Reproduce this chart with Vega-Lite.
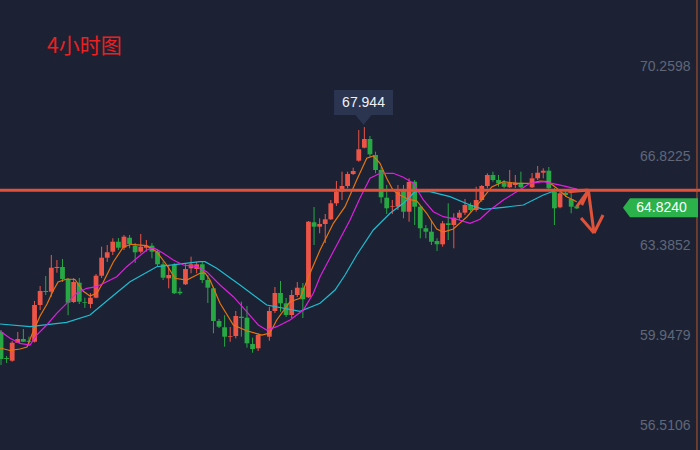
{
  "$schema": "https://vega.github.io/schema/vega-lite/v6.json",
  "width": 700,
  "height": 450,
  "padding": 0,
  "autosize": {"type": "none"},
  "background": "#1c2234",
  "view": {"stroke": null},
  "datasets": {
    "candles": [
      {"i":0,"o":60.082,"h":60.159,"l":58.817,"c":59.046},
      {"i":1,"o":59.085,"h":59.162,"l":58.893,"c":59.046},
      {"i":2,"o":58.981,"h":59.736,"l":58.943,"c":59.671},
      {"i":3,"o":59.671,"h":60.082,"l":59.660,"c":59.813},
      {"i":4,"o":59.813,"h":60.197,"l":59.698,"c":59.709},
      {"i":5,"o":59.748,"h":59.902,"l":59.556,"c":59.709},
      {"i":6,"o":59.709,"h":61.272,"l":59.680,"c":61.118},
      {"i":7,"o":61.118,"h":61.847,"l":60.926,"c":61.655},
      {"i":8,"o":61.655,"h":62.230,"l":61.502,"c":61.617},
      {"i":9,"o":61.628,"h":63.036,"l":61.437,"c":62.549},
      {"i":10,"o":62.537,"h":62.844,"l":62.357,"c":62.576},
      {"i":11,"o":62.576,"h":62.883,"l":62.001,"c":62.116},
      {"i":12,"o":62.116,"h":62.154,"l":60.726,"c":61.206},
      {"i":13,"o":61.233,"h":62.154,"l":61.194,"c":62.001},
      {"i":14,"o":61.974,"h":62.154,"l":61.156,"c":61.245},
      {"i":15,"o":61.222,"h":61.398,"l":61.007,"c":61.194},
      {"i":16,"o":61.156,"h":61.578,"l":60.995,"c":61.398},
      {"i":17,"o":61.398,"h":62.307,"l":61.375,"c":62.242},
      {"i":18,"o":62.242,"h":63.355,"l":62.154,"c":62.933},
      {"i":19,"o":62.933,"h":63.420,"l":62.768,"c":63.140},
      {"i":20,"o":63.163,"h":63.677,"l":63.036,"c":63.546},
      {"i":21,"o":63.546,"h":63.688,"l":63.228,"c":63.316},
      {"i":22,"o":63.316,"h":63.803,"l":63.228,"c":63.738},
      {"i":23,"o":63.700,"h":63.803,"l":63.293,"c":63.447},
      {"i":24,"o":63.393,"h":63.497,"l":62.730,"c":63.140},
      {"i":25,"o":63.163,"h":63.842,"l":63.101,"c":63.355},
      {"i":26,"o":63.316,"h":63.612,"l":63.163,"c":63.393},
      {"i":27,"o":63.393,"h":63.497,"l":62.910,"c":63.163},
      {"i":28,"o":63.163,"h":63.267,"l":62.588,"c":62.680},
      {"i":29,"o":62.680,"h":62.779,"l":62.077,"c":62.165},
      {"i":30,"o":62.142,"h":62.653,"l":61.759,"c":62.269},
      {"i":31,"o":62.653,"h":62.718,"l":61.540,"c":61.567},
      {"i":32,"o":61.628,"h":61.782,"l":61.502,"c":61.567},
      {"i":33,"o":61.912,"h":62.680,"l":61.885,"c":62.499},
      {"i":34,"o":62.526,"h":62.971,"l":62.334,"c":62.680},
      {"i":35,"o":62.499,"h":62.779,"l":62.334,"c":62.680},
      {"i":36,"o":62.680,"h":62.779,"l":61.962,"c":62.077},
      {"i":37,"o":62.077,"h":62.269,"l":61.195,"c":61.782},
      {"i":38,"o":61.759,"h":61.820,"l":60.033,"c":60.504},
      {"i":39,"o":60.504,"h":60.581,"l":60.236,"c":60.286},
      {"i":40,"o":60.263,"h":60.727,"l":59.519,"c":59.902},
      {"i":41,"o":59.902,"h":60.274,"l":59.709,"c":59.929},
      {"i":42,"o":59.929,"h":60.888,"l":59.841,"c":60.696},
      {"i":43,"o":60.670,"h":61.245,"l":59.902,"c":60.620},
      {"i":44,"o":60.631,"h":61.080,"l":59.480,"c":59.649},
      {"i":45,"o":59.622,"h":59.864,"l":59.288,"c":59.430},
      {"i":46,"o":59.457,"h":60.033,"l":59.354,"c":59.967},
      {"i":48,"o":59.902,"h":61.053,"l":59.748,"c":60.888},
      {"i":49,"o":60.888,"h":61.809,"l":60.811,"c":61.578},
      {"i":50,"o":61.578,"h":62.039,"l":60.861,"c":61.183},
      {"i":51,"o":61.183,"h":61.387,"l":60.658,"c":60.734},
      {"i":52,"o":60.734,"h":61.694,"l":60.620,"c":61.502},
      {"i":53,"o":61.502,"h":62.001,"l":61.425,"c":61.782},
      {"i":54,"o":61.782,"h":61.962,"l":60.620,"c":61.337},
      {"i":55,"o":61.414,"h":64.341,"l":61.387,"c":64.314},
      {"i":56,"o":64.291,"h":64.877,"l":63.420,"c":64.122},
      {"i":57,"o":64.122,"h":64.444,"l":63.869,"c":64.225},
      {"i":58,"o":64.225,"h":64.609,"l":63.497,"c":64.406},
      {"i":59,"o":64.406,"h":65.146,"l":64.379,"c":65.019},
      {"i":60,"o":65.019,"h":65.875,"l":64.916,"c":65.464},
      {"i":61,"o":65.464,"h":66.232,"l":65.146,"c":65.683},
      {"i":62,"o":65.683,"h":66.232,"l":65.595,"c":66.143},
      {"i":63,"o":66.143,"h":66.385,"l":66.105,"c":66.258},
      {"i":64,"o":66.654,"h":67.831,"l":66.615,"c":67.091},
      {"i":65,"o":67.152,"h":67.944,"l":67.129,"c":67.486},
      {"i":66,"o":67.486,"h":67.601,"l":66.807,"c":66.899},
      {"i":67,"o":66.872,"h":66.999,"l":66.170,"c":66.297},
      {"i":68,"o":66.297,"h":66.412,"l":65.019,"c":65.250},
      {"i":69,"o":65.234,"h":65.721,"l":64.609,"c":64.828},
      {"i":70,"o":64.878,"h":65.146,"l":64.609,"c":64.904},
      {"i":71,"o":64.889,"h":65.721,"l":64.762,"c":65.464},
      {"i":72,"o":65.530,"h":65.721,"l":64.444,"c":64.697},
      {"i":73,"o":64.697,"h":65.978,"l":64.314,"c":65.837},
      {"i":74,"o":65.848,"h":65.913,"l":64.187,"c":64.889},
      {"i":75,"o":64.889,"h":64.954,"l":63.677,"c":64.061},
      {"i":76,"o":64.061,"h":64.187,"l":63.677,"c":63.930},
      {"i":77,"o":63.930,"h":64.379,"l":63.420,"c":63.546},
      {"i":78,"o":63.573,"h":63.677,"l":63.190,"c":63.447},
      {"i":79,"o":63.447,"h":64.341,"l":63.355,"c":64.252},
      {"i":80,"o":64.252,"h":65.019,"l":63.612,"c":64.187},
      {"i":81,"o":64.187,"h":64.636,"l":63.293,"c":64.467},
      {"i":82,"o":64.467,"h":64.762,"l":64.379,"c":64.659},
      {"i":83,"o":64.659,"h":65.184,"l":64.571,"c":64.954},
      {"i":84,"o":64.954,"h":65.043,"l":64.697,"c":64.762},
      {"i":85,"o":64.762,"h":65.656,"l":64.697,"c":65.146},
      {"i":86,"o":65.146,"h":65.721,"l":65.081,"c":65.683},
      {"i":87,"o":65.683,"h":66.170,"l":65.595,"c":66.105},
      {"i":88,"o":66.105,"h":66.232,"l":65.848,"c":65.913},
      {"i":89,"o":65.913,"h":66.105,"l":65.656,"c":65.787},
      {"i":90,"o":65.810,"h":65.913,"l":65.595,"c":65.656},
      {"i":91,"o":65.633,"h":66.297,"l":65.606,"c":65.810},
      {"i":92,"o":65.721,"h":66.105,"l":65.606,"c":65.810},
      {"i":93,"o":65.810,"h":66.232,"l":65.606,"c":65.633},
      {"i":95,"o":65.633,"h":66.182,"l":65.606,"c":65.978},
      {"i":96,"o":65.978,"h":66.450,"l":65.913,"c":66.193},
      {"i":97,"o":66.193,"h":66.362,"l":65.978,"c":66.270},
      {"i":98,"o":66.270,"h":66.412,"l":65.530,"c":65.595},
      {"i":99,"o":65.464,"h":65.606,"l":64.187,"c":64.828},
      {"i":100,"o":64.866,"h":65.464,"l":64.828,"c":65.403},
      {"i":101,"o":65.426,"h":65.530,"l":65.261,"c":65.338},
      {"i":102,"o":65.184,"h":65.464,"l":64.636,"c":64.889},
      {"i":103,"o":64.904,"h":64.954,"l":64.801,"c":64.824}
    ],
    "ma": [
      {"s":"ma20","i":-0.18,"v":60.389},{"s":"ma20","i":5.19,"v":60.286},{"s":"ma20","i":11.75,"v":60.455},{"s":"ma20","i":15.92,"v":60.734},{"s":"ma20","i":19.5,"v":61.375},{"s":"ma20","i":23.08,"v":62.012},{"s":"ma20","i":27.85,"v":62.587},{"s":"ma20","i":31.43,"v":62.68},{"s":"ma20","i":35.6,"v":62.779},{"s":"ma20","i":36.49,"v":62.779},{"s":"ma20","i":38.59,"v":62.526},{"s":"ma20","i":42.75,"v":61.885},{"s":"ma20","i":47.53,"v":61.118},{"s":"ma20","i":53.49,"v":60.876},{"s":"ma20","i":57.07,"v":61.183},{"s":"ma20","i":59.75,"v":61.694},{"s":"ma20","i":61.54,"v":62.269},{"s":"ma20","i":63.63,"v":63.036},{"s":"ma20","i":66.6,"v":63.995},{"s":"ma20","i":69.59,"v":64.636},{"s":"ma20","i":71.97,"v":65.019},{"s":"ma20","i":74.06,"v":65.464},{"s":"ma20","i":76.74,"v":65.464},{"s":"ma20","i":80.32,"v":65.273},{"s":"ma20","i":83.9,"v":64.954},{"s":"ma20","i":86.28,"v":64.789},{"s":"ma20","i":89.86,"v":64.866},{"s":"ma20","i":93.44,"v":64.954},{"s":"ma20","i":97.01,"v":65.338},{"s":"ma20","i":99.41,"v":65.53},{"s":"ma20","i":102.99,"v":65.568},
      {"s":"ma5","i":-0.18,"v":59.469},{"s":"ma5","i":1.61,"v":59.373},{"s":"ma5","i":3.4,"v":59.431},{"s":"ma5","i":4.65,"v":59.507},{"s":"ma5","i":5.72,"v":60.082},{"s":"ma5","i":6.98,"v":60.696},{"s":"ma5","i":8.23,"v":61.157},{"s":"ma5","i":9.3,"v":61.655},{"s":"ma5","i":10.2,"v":62.001},{"s":"ma5","i":11.75,"v":62.116},{"s":"ma5","i":13.24,"v":62.097},{"s":"ma5","i":14.67,"v":61.655},{"s":"ma5","i":15.92,"v":61.464},{"s":"ma5","i":17.17,"v":61.578},{"s":"ma5","i":18.3,"v":62.001},{"s":"ma5","i":20.09,"v":62.768},{"s":"ma5","i":21.88,"v":63.343},{"s":"ma5","i":23.38,"v":63.447},{"s":"ma5","i":26.06,"v":63.393},{"s":"ma5","i":27.85,"v":63.163},{"s":"ma5","i":29.64,"v":62.653},{"s":"ma5","i":31.13,"v":62.142},{"s":"ma5","i":33.22,"v":62.077},{"s":"ma5","i":35.6,"v":62.334},{"s":"ma5","i":36.49,"v":62.346},{"s":"ma5","i":37.39,"v":62.077},{"s":"ma5","i":39.18,"v":61.183},{"s":"ma5","i":41.56,"v":60.351},{"s":"ma5","i":43.95,"v":60.132},{"s":"ma5","i":46.64,"v":59.967},{"s":"ma5","i":48.12,"v":60.044},{"s":"ma5","i":49.32,"v":60.543},{"s":"ma5","i":51.7,"v":61.245},{"s":"ma5","i":53.49,"v":61.375},{"s":"ma5","i":55.28,"v":62.334},{"s":"ma5","i":57.07,"v":63.228},{"s":"ma5","i":59.45,"v":64.252},{"s":"ma5","i":61.54,"v":64.889},{"s":"ma5","i":63.63,"v":65.913},{"s":"ma5","i":65.42,"v":66.746},{"s":"ma5","i":66.6,"v":66.834},{"s":"ma5","i":67.8,"v":66.554},{"s":"ma5","i":68.99,"v":65.978},{"s":"ma5","i":70.18,"v":65.503},{"s":"ma5","i":71.38,"v":65.338},{"s":"ma5","i":72.86,"v":65.173},{"s":"ma5","i":74.37,"v":65.108},{"s":"ma5","i":76.15,"v":64.636},{"s":"ma5","i":77.94,"v":64.034},{"s":"ma5","i":79.12,"v":63.919},{"s":"ma5","i":80.91,"v":64.034},{"s":"ma5","i":83.31,"v":64.494},{"s":"ma5","i":85.69,"v":65.081},{"s":"ma5","i":87.78,"v":65.645},{"s":"ma5","i":89.86,"v":65.848},{"s":"ma5","i":92.25,"v":65.787},{"s":"ma5","i":94.63,"v":65.787},{"s":"ma5","i":96.42,"v":65.875},{"s":"ma5","i":97.91,"v":65.848},{"s":"ma5","i":99.41,"v":65.595},{"s":"ma5","i":101.2,"v":65.273},{"s":"ma5","i":102.99,"v":65.081},
      {"s":"ma10","i":-0.18,"v":60.121},{"s":"ma10","i":1.61,"v":59.841},{"s":"ma10","i":3.4,"v":59.649},{"s":"ma10","i":5.19,"v":59.584},{"s":"ma10","i":6.39,"v":59.967},{"s":"ma10","i":8.18,"v":60.351},{"s":"ma10","i":9.96,"v":60.8},{"s":"ma10","i":11.75,"v":61.183},{"s":"ma10","i":13.54,"v":61.567},{"s":"ma10","i":15.33,"v":61.759},{"s":"ma10","i":17.12,"v":61.82},{"s":"ma10","i":18.91,"v":62.012},{"s":"ma10","i":20.7,"v":62.204},{"s":"ma10","i":22.49,"v":62.588},{"s":"ma10","i":24.28,"v":62.91},{"s":"ma10","i":26.06,"v":63.228},{"s":"ma10","i":27.25,"v":63.316},{"s":"ma10","i":29.03,"v":63.101},{"s":"ma10","i":30.82,"v":62.844},{"s":"ma10","i":32.61,"v":62.653},{"s":"ma10","i":35.01,"v":62.588},{"s":"ma10","i":36.8,"v":62.396},{"s":"ma10","i":39.18,"v":61.885},{"s":"ma10","i":41.56,"v":61.437},{"s":"ma10","i":43.95,"v":60.861},{"s":"ma10","i":46.03,"v":60.351},{"s":"ma10","i":47.53,"v":60.159},{"s":"ma10","i":49.32,"v":60.286},{"s":"ma10","i":51.7,"v":60.543},{"s":"ma10","i":54.08,"v":60.926},{"s":"ma10","i":55.87,"v":61.567},{"s":"ma10","i":57.07,"v":62.204},{"s":"ma10","i":59.03,"v":62.998},{"s":"ma10","i":62.43,"v":64.379},{"s":"ma10","i":64.22,"v":65.223},{"s":"ma10","i":66.01,"v":65.978},{"s":"ma10","i":67.8,"v":66.17},{"s":"ma10","i":70.18,"v":66.17},{"s":"ma10","i":71.97,"v":66.017},{"s":"ma10","i":73.76,"v":65.787},{"s":"ma10","i":75.55,"v":65.146},{"s":"ma10","i":77.34,"v":64.697},{"s":"ma10","i":79.12,"v":64.505},{"s":"ma10","i":81.52,"v":64.406},{"s":"ma10","i":83.9,"v":64.252},{"s":"ma10","i":85.69,"v":64.406},{"s":"ma10","i":87.48,"v":64.762},{"s":"ma10","i":89.86,"v":65.146},{"s":"ma10","i":92.25,"v":65.464},{"s":"ma10","i":94.63,"v":65.787},{"s":"ma10","i":97.01,"v":65.848},{"s":"ma10","i":99.41,"v":65.748},{"s":"ma10","i":101.2,"v":65.656},{"s":"ma10","i":102.99,"v":65.568}
    ],
    "arrow": [
      {"k":"a","i":101.49,"v":65.464},{"k":"a","i":105.06,"v":65.53},
      {"k":"b","i":102.99,"v":64.889},{"k":"b","i":105.06,"v":65.503},
      {"k":"c","i":103.88,"v":64.954},{"k":"c","i":105.06,"v":65.5},
      {"k":"d","i":105.06,"v":65.53},{"k":"d","i":106.08,"v":63.88},
      {"k":"e","i":103.76,"v":64.456},{"k":"e","i":106.08,"v":63.88},
      {"k":"f","i":107.69,"v":64.571},{"k":"f","i":106.08,"v":63.88}
    ],
    "level": [{"v": 65.52}],
    "edge": [{"i": 124.5}],
    "price": [{"t": "64.8240", "i": 117.97, "v": 64.848}],
    "peak": [{"t": "67.944", "i": 64.85, "v": 68.694, "tv": 68.886}],
    "title": [{"t": "4小时图", "i": 8.23, "v": 71.015}]
  },
  "layer": [
    {
      "data": {"name": "candles"},
      "mark": {"type": "rule", "strokeWidth": 1},
      "encoding": {
        "x": {"field": "i", "type": "quantitative", "scale": {"domain": [-0.18, 125.04], "nice": false, "zero": false, "padding": 0}, "axis": null},
        "y": {"field": "h", "type": "quantitative", "scale": {"domain": [55.556, 72.818], "nice": false, "zero": false, "padding": 0},
              "axis": {"orient": "right", "values": [70.2598, 66.8225, 63.3852, 59.9479, 56.5106], "format": ".4f", "domain": false, "ticks": false, "grid": false, "labelAlign": "right", "labelPadding": 0, "offset": -10, "labelColor": "#5f6779", "labelFontSize": 14, "labelFont": "Liberation Sans", "labelOverlap": false, "labelFlush": false, "title": null}},
        "y2": {"field": "l"},
        "color": {"condition": {"test": "datum.c >= datum.o", "value": "#ec5448"}, "value": "#27a844"}
      }
    },
    {
      "data": {"name": "candles"},
      "mark": {"type": "bar", "size": 4.8},
      "encoding": {
        "x": {"field": "i", "type": "quantitative"},
        "y": {"field": "o", "type": "quantitative"},
        "y2": {"field": "c"},
        "color": {"condition": {"test": "datum.c >= datum.o", "value": "#ec5448"}, "value": "#27a844"}
      }
    },
    {
      "data": {"name": "ma"},
      "mark": {"type": "line", "strokeWidth": 1.2},
      "encoding": {
        "x": {"field": "i", "type": "quantitative"},
        "y": {"field": "v", "type": "quantitative"},
        "color": {"field": "s", "type": "nominal", "scale": {"domain": ["ma5", "ma10", "ma20"], "range": ["#e8740c", "#e01de0", "#1fbcd0"]}, "legend": null}
      }
    },
    {
      "data": {"name": "level"},
      "mark": {"type": "rule", "strokeWidth": 3, "color": "#e0523a"},
      "encoding": {"y": {"field": "v", "type": "quantitative"}}
    },
    {
      "data": {"name": "edge"},
      "mark": {"type": "rule", "strokeWidth": 1, "color": "#b5582f"},
      "encoding": {"x": {"field": "i", "type": "quantitative"}}
    },
    {
      "data": {"name": "arrow"},
      "mark": {"type": "line", "strokeWidth": 3, "color": "#e0523a"},
      "encoding": {
        "x": {"field": "i", "type": "quantitative"},
        "y": {"field": "v", "type": "quantitative"},
        "detail": {"field": "k", "type": "nominal"}
      }
    },
    {
      "data": {"name": "price"},
      "mark": {"type": "point", "shape": "M -1 0 L -0.813 -0.253 L 1 -0.253 L 1 0.253 L -0.813 0.253 Z", "filled": true, "fill": "#2bb24a", "opacity": 1, "size": 5625, "strokeWidth": 0},
      "encoding": {"x": {"field": "i", "type": "quantitative"}, "y": {"field": "v", "type": "quantitative"}}
    },
    {
      "data": {"name": "price"},
      "mark": {"type": "text", "color": "#ffffff", "fontSize": 14, "font": "Liberation Sans", "align": "center", "baseline": "middle", "dx": 1},
      "encoding": {"x": {"field": "i", "type": "quantitative"}, "y": {"field": "v", "type": "quantitative"}, "text": {"field": "t"}}
    },
    {
      "data": {"name": "peak"},
      "mark": {"type": "point", "shape": "M -1 -0.593 L 1 -0.593 L 1 0.254 L 0.27 0.254 L 0 0.593 L -0.27 0.254 L -1 0.254 Z", "filled": true, "fill": "#2b3550", "opacity": 1, "size": 3481, "strokeWidth": 0},
      "encoding": {"x": {"field": "i", "type": "quantitative"}, "y": {"field": "v", "type": "quantitative"}}
    },
    {
      "data": {"name": "peak"},
      "mark": {"type": "text", "color": "#eef1f6", "fontSize": 14, "font": "Liberation Sans", "align": "center", "baseline": "middle"},
      "encoding": {"x": {"field": "i", "type": "quantitative"}, "y": {"field": "tv", "type": "quantitative"}, "text": {"field": "t"}}
    },
    {
      "data": {"name": "title"},
      "mark": {"type": "text", "color": "#ee1f1f", "fontSize": 21, "font": "Noto Sans CJK SC", "align": "left", "baseline": "middle"},
      "encoding": {"x": {"field": "i", "type": "quantitative"}, "y": {"field": "v", "type": "quantitative"}, "text": {"field": "t"}}
    }
  ]
}
